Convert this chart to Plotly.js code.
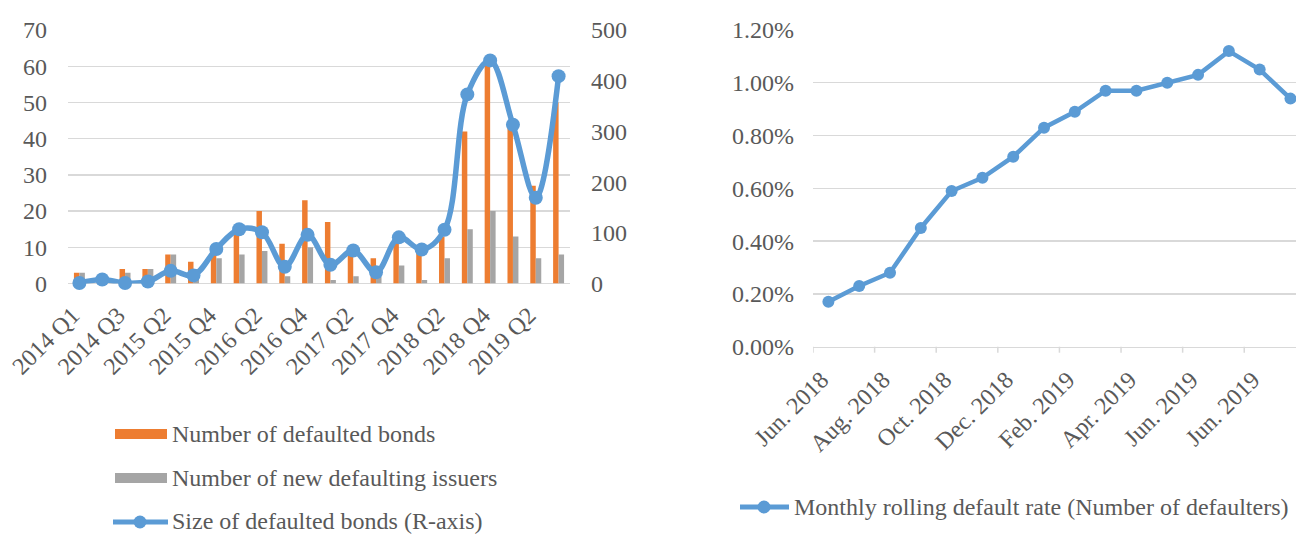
<!DOCTYPE html>
<html>
<head>
<meta charset="utf-8">
<script src="https://cdn.plot.ly/plotly-3.0.1.min.js"></script>
<style>
  html, body { margin: 0; padding: 0; background: #ffffff; overflow: hidden; }
  #chart { width: 1296px; height: 534px; }
</style>
</head>
<body>
<div id="chart"></div>
<script>
// ---- Quarterly default statistics ----
const quarters = ['2014 Q1', '2014 Q2', '2014 Q3', '2015 Q1', '2015 Q2', '2015 Q3', '2015 Q4',
  '2016 Q1', '2016 Q2', '2016 Q3', '2016 Q4', '2017 Q1', '2017 Q2', '2017 Q3', '2017 Q4',
  '2018 Q1', '2018 Q2', '2018 Q3', '2018 Q4', '2019 Q1', '2019 Q2', '2019 Q3'];
const quarterTicks = ['2014 Q1', '2014 Q3', '2015 Q2', '2015 Q4', '2016 Q2', '2016 Q4',
  '2017 Q2', '2017 Q4', '2018 Q2', '2018 Q4', '2019 Q2'];
const defaultedBonds = [3, 2, 4, 4, 8, 6, 10, 15, 20, 11, 23, 17, 8, 7, 12, 10, 13, 42, 61, 44, 27, 50];
const newDefaultingIssuers = [3, 1, 3, 4, 8, 4, 7, 8, 9, 2, 10, 1, 2, 2, 5, 1, 7, 15, 20, 13, 7, 8];
const defaultedSize = [1, 8, 1, 4, 25, 16, 68, 107, 101, 33, 96, 37, 65, 22, 91, 67, 106, 373, 440, 313, 169, 409];

// ---- Monthly rolling default rate (%) ----
const months = ['Jun. 2018', 'Jul. 2018', 'Aug. 2018', 'Sep. 2018', 'Oct. 2018', 'Nov. 2018',
  'Dec. 2018', 'Jan. 2019', 'Feb. 2019', 'Mar. 2019', 'Apr. 2019', 'May 2019', 'Jun. 2019',
  'Jul. 2019', 'Aug. 2019', 'Sep. 2019'];
const monthTickVals = ['Jun. 2018', 'Aug. 2018', 'Oct. 2018', 'Dec. 2018', 'Feb. 2019',
  'Apr. 2019', 'Jun. 2019', 'Aug. 2019'];
const monthTickLabels = ['Jun. 2018', 'Aug. 2018', 'Oct. 2018', 'Dec. 2018', 'Feb. 2019',
  'Apr. 2019', 'Jun. 2019', 'Jun. 2019'];
const rollingDefaultRate = [0.17, 0.23, 0.28, 0.45, 0.59, 0.64, 0.72, 0.83, 0.89, 0.97, 0.97,
  1.00, 1.03, 1.12, 1.05, 0.94];

const seriesNames = ['Number of defaulted bonds', 'Number of new defaulting issuers',
  'Size of defaulted bonds (R-axis)'];
const rateName = 'Monthly rolling default rate (Number of defaulters)';

const ORANGE = '#ED7D31', GRAY = '#A5A5A5', BLUE = '#5B9BD5';
const TEXT = '#595959', GRID = '#D9D9D9';
const FONT = '"Liberation Serif", "Times New Roman", serif';

// page pixel -> paper coordinate helpers
const W = 1296, H = 534;
const fx = p => p / W;
const fy = p => 1 - p / H;

const RATE_BOTTOM = 346.7, RATE_TOP = 30;

const traces = [
  { type: 'bar', name: seriesNames[0], x: quarters, y: defaultedBonds, xaxis: 'x', yaxis: 'y',
    marker: { color: ORANGE } },
  { type: 'bar', name: seriesNames[1], x: quarters, y: newDefaultingIssuers, xaxis: 'x', yaxis: 'y',
    marker: { color: GRAY } },
  { type: 'scatter', mode: 'lines+markers', name: seriesNames[2], x: quarters, y: defaultedSize,
    xaxis: 'x', yaxis: 'y2', line: { color: BLUE, width: 5.5, shape: 'spline', smoothing: 1 },
    marker: { color: BLUE, size: 14 }, cliponaxis: false },
  { type: 'scatter', mode: 'lines+markers', name: rateName, x: months, y: rollingDefaultRate,
    xaxis: 'x2', yaxis: 'y3', line: { color: BLUE, width: 4.5 },
    marker: { color: BLUE, size: 12 }, cliponaxis: false }
];

const tickFont = { family: FONT, size: 24, color: TEXT };

// month axis tick marks: half a category before each labelled month
const monthTickMarks = monthTickVals.map(m => ({
  type: 'line', xref: 'x2', yref: 'paper',
  x0: months.indexOf(m) - 0.5, x1: months.indexOf(m) - 0.5,
  y0: fy(RATE_BOTTOM), y1: fy(RATE_BOTTOM + 6),
  line: { color: GRID, width: 1.5 }
}));

// legend swatches and labels
const legendShapes = [
  { type: 'rect', xref: 'paper', yref: 'paper', x0: fx(115), x1: fx(167), y0: fy(439), y1: fy(429),
    fillcolor: ORANGE, line: { width: 0 } },
  { type: 'rect', xref: 'paper', yref: 'paper', x0: fx(115), x1: fx(167), y0: fy(483), y1: fy(473),
    fillcolor: GRAY, line: { width: 0 } },
  { type: 'line', xref: 'paper', yref: 'paper', x0: fx(113), x1: fx(168), y0: fy(522), y1: fy(522),
    line: { color: BLUE, width: 5 } },
  { type: 'circle', xref: 'paper', yref: 'paper', x0: fx(133.5), x1: fx(146.5), y0: fy(528.5), y1: fy(515.5),
    fillcolor: BLUE, line: { width: 0 } },
  { type: 'line', xref: 'paper', yref: 'paper', x0: fx(740), x1: fx(789), y0: fy(507), y1: fy(507),
    line: { color: BLUE, width: 5 } },
  { type: 'circle', xref: 'paper', yref: 'paper', x0: fx(757.5), x1: fx(770.5), y0: fy(513.5), y1: fy(500.5),
    fillcolor: BLUE, line: { width: 0 } }
];
const legendLabel = (text, x, y) => ({
  text, xref: 'paper', yref: 'paper', x: fx(x), y: fy(y), xanchor: 'left', yanchor: 'middle',
  showarrow: false, font: { family: FONT, size: 24, color: TEXT }
});
const legendAnnotations = [
  legendLabel(seriesNames[0], 170, 434),
  legendLabel(seriesNames[1], 170, 478),
  legendLabel(seriesNames[2], 170, 521),
  legendLabel(rateName, 792, 507)
];

const layout = {
  width: W, height: H,
  margin: { l: 0, r: 0, t: 0, b: 0 },
  paper_bgcolor: '#ffffff', plot_bgcolor: '#ffffff',
  font: { family: FONT, size: 24, color: TEXT },
  showlegend: false,
  barmode: 'group', bargap: 0.52, bargroupgap: 0,
  xaxis: {
    domain: [fx(68), fx(570)], anchor: 'y', type: 'category', range: [-0.5, 21.5],
    tickmode: 'array', tickvals: quarterTicks, ticktext: quarterTicks, tickangle: -45,
    showgrid: false, showline: false, zeroline: false, ticks: '', tickfont: tickFont,
    ticklabelstandoff: 12, ticklabelshift: -7
  },
  yaxis: {
    domain: [fy(283.5), fy(30)], anchor: 'x', range: [0, 70], dtick: 10, tick0: 0,
    gridcolor: GRID, gridwidth: 1.3, zeroline: true, zerolinecolor: GRID, zerolinewidth: 1.5,
    showline: false, ticks: '', tickfont: tickFont, ticklabelstandoff: 20
  },
  yaxis2: {
    overlaying: 'y', side: 'right', anchor: 'x', range: [0, 500], dtick: 100, tick0: 0,
    showgrid: false, zeroline: false, showline: false, ticks: '', tickfont: tickFont,
    ticklabelstandoff: 20
  },
  xaxis2: {
    domain: [fx(813), 1], anchor: 'y3', type: 'category', range: [-0.5, 15.18],
    tickmode: 'array', tickvals: monthTickVals, ticktext: monthTickLabels, tickangle: -45,
    ticks: '', showline: true, linecolor: GRID, linewidth: 1.5, showgrid: false, zeroline: false,
    tickfont: tickFont, ticklabelstandoff: 8, ticklabelshift: -7
  },
  yaxis3: {
    domain: [fy(RATE_BOTTOM), fy(RATE_TOP)], anchor: 'x2', range: [0, 1.2], dtick: 0.2, tick0: 0,
    tickformat: '.2f', ticksuffix: '%', gridcolor: GRID, gridwidth: 1.3,
    zeroline: false, showline: false, ticks: '', tickfont: tickFont, ticklabelstandoff: 18
  },
  shapes: monthTickMarks.concat(legendShapes),
  annotations: legendAnnotations
};

Plotly.newPlot('chart', traces, layout, { staticPlot: true, displayModeBar: false });
</script>
</body>
</html>
